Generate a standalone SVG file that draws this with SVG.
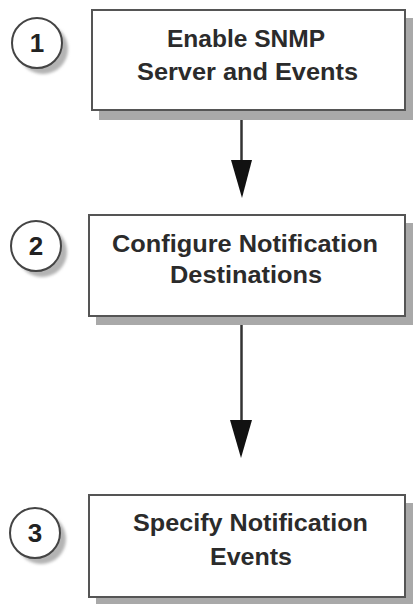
<svg xmlns="http://www.w3.org/2000/svg" width="413" height="604" viewBox="0 0 413 604">
<defs>
<filter id="blur" x="-20%" y="-20%" width="140%" height="140%"><feGaussianBlur stdDeviation="1.5"/></filter>
<style>
.box{fill:#fff;stroke:#555;stroke-width:2}
.shadow{fill:#a9a9a9}
.cshadow{fill:#b4b4b4;filter:url(#blur)}
.circ{fill:#fff;stroke:#444;stroke-width:2}
.lbl{font-family:"Liberation Sans",Arial,sans-serif;font-weight:bold;font-size:24px;fill:#2b2b2b;text-anchor:middle}
.num{font-family:"Liberation Sans",Arial,sans-serif;font-weight:bold;font-size:26px;fill:#222;text-anchor:middle}
.conn{stroke:#333;stroke-width:2.5;fill:none}
.head{fill:#111}
</style>
</defs>
<g id="connectors">
<line class="conn" x1="241.5" y1="110" x2="241.5" y2="168"/>
<polygon class="head" points="231,160 252,160 242,198"/>
<line class="conn" x1="241.5" y1="316" x2="241.5" y2="428"/>
<polygon class="head" points="230,420 252,420 241,458"/>
</g>
<g id="node1">
<rect class="shadow" x="99" y="18" width="316" height="102"/>
<rect class="box" x="92" y="10" width="313" height="100"/>
<text class="lbl" x="246" y="47" textLength="158" lengthAdjust="spacingAndGlyphs">Enable SNMP</text>
<text class="lbl" x="247.5" y="80" textLength="221" lengthAdjust="spacingAndGlyphs">Server and Events</text>
</g>
<g id="step1">
<circle class="cshadow" cx="43" cy="49" r="25"/>
<circle class="circ" cx="37" cy="43" r="25"/>
<text class="num" x="37" y="52">1</text>
</g>
<g id="node2">
<rect class="shadow" x="96" y="223" width="320" height="102"/>
<rect class="box" x="89" y="215" width="316" height="101"/>
<text class="lbl" x="245" y="252" textLength="266" lengthAdjust="spacingAndGlyphs">Configure Notification</text>
<text class="lbl" x="246" y="283" textLength="152" lengthAdjust="spacingAndGlyphs">Destinations</text>
</g>
<g id="step2">
<circle class="cshadow" cx="42" cy="252" r="25"/>
<circle class="circ" cx="36" cy="246" r="25"/>
<text class="num" x="36" y="255">2</text>
</g>
<g id="node3">
<rect class="shadow" x="96" y="503" width="320" height="102"/>
<rect class="box" x="89" y="495" width="316" height="102"/>
<text class="lbl" x="250.5" y="531" textLength="235" lengthAdjust="spacingAndGlyphs">Specify Notification</text>
<text class="lbl" x="251" y="565" textLength="82" lengthAdjust="spacingAndGlyphs">Events</text>
</g>
<g id="step3">
<circle class="cshadow" cx="41" cy="539" r="25"/>
<circle class="circ" cx="35" cy="533" r="25"/>
<text class="num" x="35" y="542">3</text>
</g>
</svg>
